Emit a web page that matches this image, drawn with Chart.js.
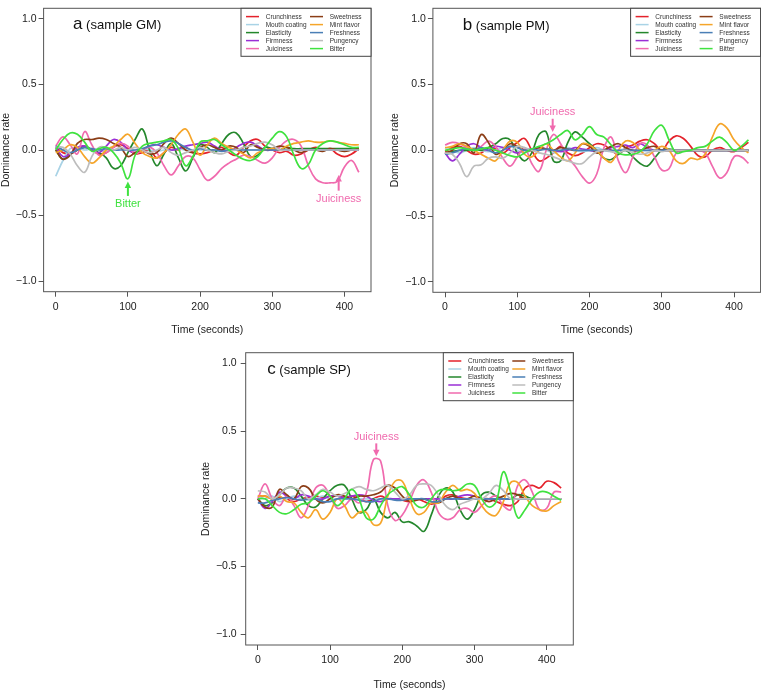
<!DOCTYPE html>
<html><head><meta charset="utf-8">
<script src="https://cdn.jsdelivr.net/npm/chart.js@4.4.1/dist/chart.umd.min.js"></script>
<style>
html,body{margin:0;padding:0;background:#fff;}
body{width:761px;height:691px;position:relative;overflow:hidden;}
.p{position:absolute;}
canvas{display:block;}
</style></head><body>
<div class="p" style="left:0;top:0;width:380px;height:340px"><canvas id="ca" width="380" height="340"></canvas></div>
<div class="p" style="left:380px;top:0;width:381px;height:340px"><canvas id="cb" width="381" height="340"></canvas></div>
<div class="p" style="left:190px;top:340px;width:400px;height:351px"><canvas id="cc" width="400" height="351"></canvas></div>
<script>
// ---------- data ----------
const time = [0,10,20,30,40,50,60,70,80,90,100,110,120,130,140,150,160,170,180,190,200,210,220,230,240,250,260,270,280,290,300,310,320,330,340,350,360,370,380,390,400,410,420];
const attributes = ["Crunchiness","Mouth coating","Elasticity","Firmness","Juiciness","Sweetness","Mint flavor","Freshness","Pungency","Bitter"];
const xTickValues = [0,100,200,300,400];
const yTickValues = [-1,-0.5,0,0.5,1];

// sample GM
const gmCrunchiness = [0.02,-0.02,-0.03,0.00,0.03,0.00,-0.03,-0.02,0.02,0.04,0.01,-0.03,-0.02,0.00,-0.06,-0.02,0.02,0.00,0.02,-0.02,-0.03,-0.02,0.00,0.02,-0.02,-0.04,0.02,0.07,0.08,0.03,0.00,-0.02,-0.01,-0.04,-0.03,0.00,0.02,0.00,0.01,-0.03,-0.05,-0.03,0.01];
const gmMouthCoating = [-0.20,-0.08,0.01,0.02,0.00,0.01,0.00,-0.01,0.00,0.01,0.00,0.00,0.01,0.00,-0.01,0.00,0.00,0.01,0.00,0.00,0.00,0.00,0.00,0.00,0.00,0.00,0.00,0.00,0.00,0.00,0.00,0.00,0.00,0.00,0.00,0.00,0.00,0.00,0.00,0.00,0.00,0.00,0.00];
const gmElasticity = [0.00,-0.07,-0.03,0.00,0.02,0.00,-0.02,-0.06,-0.14,-0.12,-0.02,0.08,0.16,0.00,-0.12,-0.03,0.05,-0.06,-0.16,-0.06,0.04,0.02,-0.02,0.05,0.12,0.13,0.05,-0.05,-0.04,0.02,0.01,0.00,0.02,0.01,0.01,0.01,0.01,0.01,0.01,0.01,0.01,0.01,0.01];
const gmFirmness = [0.02,-0.05,-0.03,0.02,0.03,0.00,-0.02,0.03,0.08,0.06,0.00,-0.02,0.00,0.03,0.04,0.02,0.00,0.01,0.03,0.04,0.05,0.06,0.03,0.00,-0.01,0.02,0.05,0.06,0.03,0.00,0.00,0.00,0.00,0.00,0.00,0.00,0.00,0.00,0.00,0.00,0.00,0.00,0.00];
const gmJuiciness = [0.03,0.10,0.04,-0.03,0.14,0.04,-0.04,-0.02,0.02,0.05,0.03,-0.03,0.00,0.02,-0.02,-0.12,-0.19,-0.12,-0.05,-0.06,-0.15,-0.23,-0.20,-0.14,-0.10,-0.07,-0.04,-0.05,-0.08,-0.10,-0.06,0.02,0.07,0.08,0.03,-0.12,-0.22,-0.25,-0.25,-0.24,-0.13,-0.08,-0.17];
const gmSweetness = [0.00,-0.07,-0.04,0.05,0.08,0.08,0.09,0.08,0.05,0.02,-0.05,-0.02,0.00,-0.03,-0.02,0.05,0.09,0.05,0.00,-0.02,0.02,0.04,0.02,0.00,0.03,0.02,-0.02,0.04,0.02,0.00,0.01,0.03,0.02,0.00,-0.02,0.00,0.00,-0.01,0.01,0.00,-0.01,0.00,0.01];
const gmMintFlavor = [-0.02,0.00,0.04,0.02,-0.05,-0.10,-0.06,0.00,0.03,0.08,0.12,0.05,-0.02,-0.05,-0.06,-0.02,0.04,0.12,0.16,0.06,-0.04,0.04,0.09,0.05,0.02,0.00,-0.03,-0.06,-0.02,0.00,0.01,0.00,0.03,0.05,0.06,0.07,0.06,0.06,0.07,0.06,0.05,0.04,0.04];
const gmFreshness = [0.03,0.00,-0.02,0.00,0.02,0.01,0.00,0.01,0.00,0.00,0.00,0.00,0.01,0.03,0.04,0.06,0.07,0.05,0.02,0.00,0.01,0.00,0.00,-0.01,0.00,0.00,0.00,0.00,0.00,0.00,0.00,0.00,0.00,0.00,0.00,0.00,0.00,0.00,0.00,0.00,0.00,0.00,0.00];
const gmPungency = [0.02,0.02,-0.03,-0.12,-0.17,-0.05,0.02,0.02,0.00,0.02,0.00,0.02,0.00,-0.02,0.00,0.02,-0.02,-0.04,-0.02,0.00,0.02,0.00,-0.02,-0.03,-0.01,0.00,0.02,0.03,0.05,0.06,0.04,0.00,0.00,0.00,0.00,0.00,0.00,0.00,0.00,0.00,0.00,0.00,0.00];
const gmBitter = [0.00,0.08,0.13,0.12,0.06,-0.01,0.01,0.02,-0.02,-0.10,-0.22,-0.04,0.03,0.05,0.06,0.07,0.08,0.01,-0.12,-0.05,0.06,0.07,0.08,0.04,0.00,-0.04,-0.07,-0.08,-0.05,0.02,0.09,0.14,0.10,-0.04,-0.14,-0.11,0.00,0.05,0.07,0.06,0.04,0.02,0.02];

// sample PM
const pmCrunchiness = [-0.01,0.02,0.03,0.00,-0.03,-0.02,0.02,0.01,-0.02,0.02,0.06,0.09,0.00,-0.08,-0.06,-0.02,0.03,-0.02,-0.04,-0.02,0.02,0.05,0.04,0.00,-0.03,0.02,0.04,0.07,0.08,0.05,0.00,0.07,0.11,0.09,0.03,-0.04,-0.05,0.00,0.02,0.00,-0.01,0.02,0.06];
const pmMouthCoating = [0.02,0.00,-0.02,0.00,0.02,0.00,-0.01,0.00,0.02,0.03,0.00,-0.02,0.00,0.01,0.00,-0.02,0.00,0.02,0.00,-0.01,0.00,0.02,0.00,-0.01,0.00,0.01,0.00,0.00,0.00,0.00,0.00,0.00,0.00,0.00,0.00,0.00,0.00,0.00,0.00,0.00,0.00,0.00,0.00];
const pmElasticity = [-0.02,-0.01,0.00,0.00,0.01,0.00,0.02,0.05,0.09,0.08,-0.02,-0.08,-0.02,0.12,0.14,-0.08,-0.08,0.06,0.14,0.10,0.05,0.00,-0.06,-0.07,-0.03,0.00,-0.05,-0.10,-0.12,-0.06,0.00,0.01,0.00,0.00,0.00,0.00,0.00,0.00,0.00,0.00,0.00,0.00,0.00];
const pmFirmness = [-0.02,-0.08,-0.03,0.03,0.05,0.02,0.00,0.03,0.02,0.00,-0.02,0.00,0.01,0.02,0.01,0.00,-0.01,0.00,0.02,0.01,0.00,-0.01,0.00,0.02,0.03,0.04,0.02,0.05,0.02,0.00,0.00,0.00,0.00,0.00,0.00,0.00,0.00,0.00,0.00,0.00,0.00,0.00,0.00];
const pmJuiciness = [0.04,0.06,0.05,0.02,0.00,0.03,0.07,0.03,-0.06,-0.12,-0.05,0.02,-0.10,-0.16,0.00,0.12,0.05,-0.05,-0.12,-0.20,-0.25,-0.18,0.02,0.10,-0.08,-0.17,-0.05,0.05,0.04,-0.05,-0.15,-0.14,-0.02,0.00,0.00,0.00,-0.02,-0.12,-0.21,-0.17,-0.05,-0.05,-0.10];
const pmSweetness = [-0.02,0.00,0.05,0.05,-0.02,0.12,0.06,-0.03,0.00,0.05,0.03,0.00,0.00,0.02,0.01,0.00,0.02,0.01,0.00,0.05,0.03,-0.02,0.00,0.03,0.05,0.02,0.00,0.00,0.02,0.03,0.00,0.00,0.00,0.00,0.00,0.00,0.00,0.00,0.00,0.00,0.00,0.00,0.00];
const pmMintFlavor = [0.02,0.03,0.05,0.03,0.00,-0.03,-0.06,-0.08,0.00,0.07,0.06,-0.03,-0.05,0.00,0.05,0.00,-0.05,-0.08,-0.02,0.05,0.04,0.00,-0.06,-0.09,0.00,0.07,0.06,0.00,-0.04,0.00,0.03,0.00,-0.08,-0.10,-0.06,-0.07,-0.03,0.10,0.20,0.17,0.08,0.02,-0.02];
const pmFreshness = [-0.03,-0.02,0.00,0.01,0.00,0.02,0.00,-0.02,0.00,0.03,0.02,0.00,0.01,0.00,0.01,0.00,0.00,0.01,0.00,0.00,0.00,0.00,0.00,0.00,0.00,0.00,0.00,0.00,0.00,0.00,0.00,0.00,0.00,0.00,0.00,0.00,0.00,0.00,0.00,0.00,0.00,0.00,0.00];
const pmPungency = [-0.02,-0.03,-0.10,-0.20,-0.12,-0.11,-0.06,-0.05,-0.06,-0.02,0.03,0.02,0.00,-0.02,-0.03,-0.05,-0.07,-0.08,-0.10,-0.10,-0.05,-0.01,0.00,-0.01,-0.02,0.00,-0.02,-0.03,-0.02,0.00,-0.01,0.00,0.00,0.00,0.00,0.00,0.00,0.00,0.00,0.00,0.00,0.00,0.00];
const pmBitter = [0.00,0.01,0.02,0.01,0.00,0.01,0.02,0.00,-0.02,-0.04,-0.05,-0.02,0.01,0.03,0.05,0.08,0.12,0.15,0.08,0.12,0.18,0.12,0.10,0.04,-0.02,-0.035,-0.03,-0.01,0.05,0.15,0.19,0.08,-0.02,-0.01,0.00,0.02,0.03,0.07,0.10,0.06,0.00,0.03,0.08];

// sample SP
const spCrunchiness = [0.02,0.02,0.00,0.01,0.00,-0.02,0.00,0.01,0.02,0.01,0.02,0.02,0.01,0.02,0.00,-0.02,0.00,0.02,0.00,0.00,-0.01,-0.02,0.00,-0.02,-0.04,-0.02,0.02,0.03,0.01,0.00,0.00,0.00,0.00,-0.02,-0.04,-0.05,-0.02,0.08,0.10,0.08,0.13,0.12,0.08];
const spMouthCoating = [0.02,0.00,0.02,-0.02,0.00,0.02,0.00,-0.01,0.00,0.02,0.00,0.00,0.01,0.00,0.00,0.00,0.00,0.00,0.00,0.00,0.00,0.00,0.00,0.00,0.00,0.00,0.00,0.00,0.00,0.00,0.00,0.00,0.00,0.00,0.00,0.00,0.00,0.00,0.00,0.00,0.00,0.00,0.00];
const spElasticity = [0.00,-0.05,-0.03,0.03,0.08,0.08,0.02,-0.05,-0.06,0.00,0.06,0.10,0.10,0.00,-0.10,-0.08,0.00,-0.10,-0.14,-0.10,-0.17,-0.17,-0.20,-0.24,-0.12,0.02,0.08,0.05,-0.08,-0.15,-0.08,0.03,0.05,0.02,0.00,0.00,0.03,0.02,0.00,0.00,0.00,0.00,0.00];
const spFirmness = [0.00,-0.07,-0.02,0.05,0.02,0.00,0.03,0.02,0.00,0.00,0.02,0.02,0.01,0.02,0.03,0.02,-0.01,-0.02,0.00,0.00,0.00,0.00,0.00,0.00,0.00,0.00,0.00,0.00,0.02,0.03,0.02,0.00,0.00,0.00,0.00,0.00,0.00,0.00,0.00,0.00,0.00,0.00,0.00];
const spJuiciness = [0.00,0.11,0.00,-0.05,0.02,-0.05,-0.14,-0.05,0.08,0.10,0.02,-0.07,-0.05,0.00,-0.03,0.04,0.29,0.28,-0.05,-0.16,-0.12,-0.02,0.10,0.14,0.05,-0.10,-0.15,-0.14,-0.08,-0.07,-0.10,-0.05,0.00,0.02,-0.05,-0.08,0.10,0.14,0.05,-0.08,-0.07,0.05,0.05];
const spSweetness = [0.00,-0.06,-0.06,0.07,0.03,0.00,0.09,0.08,0.00,-0.03,0.00,0.03,0.02,0.00,0.02,0.02,0.03,0.05,0.10,0.08,0.02,-0.02,-0.01,0.00,-0.02,-0.03,0.00,0.02,0.00,0.00,0.02,0.00,-0.02,0.00,0.02,0.04,0.03,0.00,0.00,0.00,0.00,0.00,0.00];
const spMintFlavor = [0.02,0.02,0.00,0.02,-0.02,-0.03,-0.10,-0.14,-0.08,-0.15,-0.10,0.00,-0.05,-0.14,-0.10,-0.10,-0.19,-0.18,0.02,0.13,0.13,0.00,-0.11,-0.10,-0.03,-0.03,0.05,0.10,0.06,0.07,0.04,-0.05,-0.11,-0.12,-0.02,0.12,0.12,0.02,-0.05,-0.08,-0.09,-0.05,-0.02];
const spFreshness = [-0.03,-0.03,-0.01,0.00,0.01,0.00,-0.01,0.00,0.00,-0.02,-0.02,0.00,0.00,0.00,-0.01,-0.02,-0.02,0.00,0.00,-0.01,-0.01,0.00,0.00,0.00,-0.02,-0.02,0.00,0.00,0.00,0.00,0.00,0.00,0.00,0.00,0.00,0.00,0.00,0.00,0.00,0.00,0.00,0.00,0.00];
const spPungency = [0.06,0.05,0.00,0.03,0.08,0.08,0.06,0.00,0.03,0.07,0.05,0.02,0.04,0.07,0.09,0.07,0.06,0.08,0.10,0.05,0.00,0.03,0.10,0.11,0.10,0.03,-0.05,-0.08,-0.04,-0.02,0.00,0.00,0.04,0.10,0.06,0.00,0.00,0.00,0.00,0.00,0.00,0.00,0.00];
const spBitter = [0.00,0.00,-0.05,-0.10,-0.11,-0.08,-0.04,-0.03,0.02,0.06,0.02,-0.05,0.00,0.07,0.00,-0.14,-0.15,-0.05,0.03,0.07,0.09,0.03,-0.05,-0.06,0.00,0.06,0.07,0.06,0.07,0.11,0.10,0.00,-0.06,-0.02,0.20,0.05,-0.14,-0.08,0.00,0.05,0.05,0.02,-0.01];

// ---------- styles ----------
const lineColors = ["#e4222b","#a9d3e6","#24872c","#9a2fd6","#f06aae","#8b3d16","#f5a52a","#4a7fb6","#bdbdbd","#3fe23f"];
const FONT = '"Liberation Sans", Arial, Helvetica, sans-serif';
Chart.defaults.font.family = FONT;

const fmtY = v => (v < 0 ? '\u2212' : '') + Math.abs(v).toFixed(1);

const rPlugin = {
  id: 'rpanel',
  afterDraw(chart, args, o) {
    const {ctx, chartArea: a, scales: {x, y}} = chart;
    ctx.save();
    // box
    ctx.strokeStyle = '#555'; ctx.lineWidth = 1;
    ctx.strokeRect(a.left, a.top, a.right - a.left, a.bottom - a.top);
    // title
    ctx.fillStyle = '#111';
    ctx.textBaseline = 'alphabetic'; ctx.textAlign = 'left';
    const tx = x.getPixelForValue(o.titleT), ty = y.getPixelForValue(o.titleV);
    ctx.font = '17px ' + FONT;
    ctx.fillText(o.letter, tx, ty);
    const w = ctx.measureText(o.letter).width;
    ctx.font = '13px ' + FONT;
    ctx.fillText(' ' + o.sample, tx + w, ty);
    // annotations
    o.notes.forEach(n => {
      const nx = x.getPixelForValue(n.t);
      ctx.fillStyle = n.color; ctx.strokeStyle = n.color;
      ctx.font = '11px ' + FONT; ctx.textAlign = 'center'; ctx.textBaseline = 'middle';
      ctx.fillText(n.text, nx, y.getPixelForValue(n.vText));
      const y1 = y.getPixelForValue(n.vFrom), y2 = y.getPixelForValue(n.vTo);
      const d = Math.sign(y2 - y1);
      ctx.lineWidth = 2;
      ctx.beginPath(); ctx.moveTo(nx, y1); ctx.lineTo(nx, y2 - d * 4); ctx.stroke();
      ctx.beginPath(); ctx.moveTo(nx, y2); ctx.lineTo(nx - 3.2, y2 - d * 6.5); ctx.lineTo(nx + 3.2, y2 - d * 6.5); ctx.closePath(); ctx.fill();
    });
    // legend
    const lw = 130, lh = 48, lx = a.right - lw, ly = a.top;
    ctx.fillStyle = '#fff'; ctx.fillRect(lx, ly, lw, lh);
    ctx.strokeStyle = '#444'; ctx.lineWidth = 1;
    ctx.strokeRect(lx, ly, lw, lh);
    ctx.font = '6.5px ' + FONT; ctx.textAlign = 'left'; ctx.textBaseline = 'middle';
    chart.data.datasets.forEach((ds, i) => {
      const col = i < 5 ? 0 : 1, row = i % 5;
      const yy = ly + 8.3 + row * 8;
      const x0 = lx + (col ? 69 : 5);
      ctx.strokeStyle = ds.borderColor; ctx.lineWidth = 1.5;
      ctx.beginPath(); ctx.moveTo(x0, yy); ctx.lineTo(x0 + 13, yy); ctx.stroke();
      ctx.fillStyle = '#333';
      ctx.fillText(ds.label, x0 + 19.7, yy + 0.3);
    });
    ctx.restore();
  }
};

function makeChart(id, series, cfg) {
  return new Chart(document.getElementById(id), {
    type: 'line',
    data: {
      datasets: attributes.map((name, i) => ({
        label: name,
        data: time.map((t, k) => ({x: t, y: series[i][k]})),
        borderColor: lineColors[i],
        borderWidth: 1.7,
        pointRadius: 0,
        tension: 0.4,
        fill: false,
        order: attributes.length - i
      }))
    },
    options: {
      responsive: false, animation: false, events: [],
      layout: {padding: cfg.pad},
      plugins: {legend: {display: false}, tooltip: {enabled: false}, rpanel: cfg},
      scales: {
        x: {
          type: 'linear', min: -16.8, max: 436.8, bounds: 'data',
          afterFit: s => { s.height = cfg.xh; },
          afterBuildTicks: s => { s.ticks = xTickValues.map(v => ({value: v})); },
          ticks: {font: {size: 10.5}, color: '#222', padding: 4, maxRotation: 0, autoSkip: false},
          grid: {drawOnChartArea: false, drawTicks: true, tickLength: 5, tickColor: '#555'},
          border: {display: false},
          title: {display: true, text: 'Time (seconds)', font: {size: 10.5}, color: '#222', padding: {top: 0, bottom: cfg.xtb}}
        },
        y: {
          type: 'linear', min: -1.08, max: 1.08, bounds: 'data',
          afterFit: s => { s.width = cfg.yw; },
          afterBuildTicks: s => { s.ticks = yTickValues.map(v => ({value: v})); },
          ticks: {font: {size: 10.5}, color: '#222', padding: cfg.yp, callback: v => fmtY(v)},
          grid: {drawOnChartArea: false, drawTicks: true, tickLength: 5, tickColor: '#555'},
          border: {display: false},
          title: {display: true, text: 'Dominance rate', font: {size: 10.5}, color: '#222', padding: {top: cfg.ytp, bottom: 0}}
        }
      }
    },
    plugins: [rPlugin]
  });
}

makeChart('ca',
  [gmCrunchiness, gmMouthCoating, gmElasticity, gmFirmness, gmJuiciness, gmSweetness, gmMintFlavor, gmFreshness, gmPungency, gmBitter],
  {pad: {left: 0, top: 0.5, right: 9, bottom: 0}, yw: 43.6, xh: 48.3, ytp: 0, xtb: 3.7, yp: 2,
   letter: 'a', sample: '(sample GM)', titleT: 24, titleV: 0.92,
   notes: [
     {text: 'Bitter', color: '#3fe23f', t: 100, vText: -0.41, vFrom: -0.35, vTo: -0.24},
     {text: 'Juiciness', color: '#f06aae', t: 392, vText: -0.376, vFrom: -0.31, vTo: -0.19}
   ]});

makeChart('cb',
  [pmCrunchiness, pmMouthCoating, pmElasticity, pmFirmness, pmJuiciness, pmSweetness, pmMintFlavor, pmFreshness, pmPungency, pmBitter],
  {pad: {left: 0, top: 1, right: 0.4, bottom: 0}, yw: 52.9, xh: 47.7, ytp: 8.7, xtb: 3.7, yp: 2,
   letter: 'b', sample: '(sample PM)', titleT: 24.5, titleV: 0.916,
   notes: [
     {text: 'Juiciness', color: '#f06aae', t: 149, vText: 0.294, vFrom: 0.24, vTo: 0.14}
   ]});

makeChart('cc',
  [spCrunchiness, spMouthCoating, spElasticity, spFirmness, spJuiciness, spSweetness, spMintFlavor, spFreshness, spPungency, spBitter],
  {pad: {left: 0, top: 12.7, right: 16.7, bottom: 0}, yw: 55.7, xh: 46, ytp: 9.7, xtb: 0, yp: 4,
   letter: 'c', sample: '(sample SP)', titleT: 13, titleV: 0.924,
   notes: [
     {text: 'Juiciness', color: '#f06aae', t: 164, vText: 0.46, vFrom: 0.41, vTo: 0.315}
   ]});
</script>
</body></html>
